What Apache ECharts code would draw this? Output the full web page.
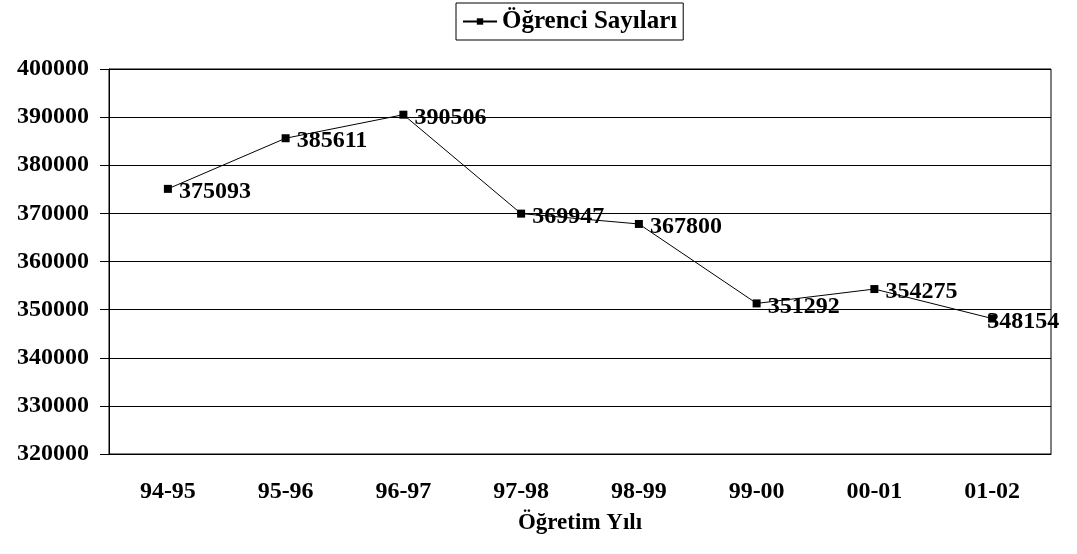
<!DOCTYPE html>
<html><head><meta charset="utf-8">
<script src="https://cdn.jsdelivr.net/npm/echarts@6/dist/echarts.min.js"></script>
<style>html,body{margin:0;padding:0;background:#fff}#c{width:1077px;height:554px}</style>
</head><body><div id="c"></div>
<script>
const categories = ["94-95","95-96","96-97","97-98","98-99","99-00","00-01","01-02"];
const values = [375093,385611,390506,369947,367800,351292,354275,348154];
const seriesName = "Öğrenci Sayıları";
const xTitle = "Öğretim Yılı";
const FONT = "'Liberation Serif','Times New Roman',serif";
const chart = echarts.init(document.getElementById('c'));
const seriesData = values.map((v,i)=> i===values.length-1 ? {value:v,label:{offset:[-16,3]}} : v);
chart.setOption({
  animation:false,
  backgroundColor:'#fff',
  legend:{top:3,left:456,data:[seriesName],borderColor:'#000',borderWidth:1,borderRadius:0,
    padding:[6,6,6,6],itemWidth:34,itemHeight:8,itemGap:4,
    textStyle:{fontFamily:FONT,fontWeight:'bold',fontSize:25,color:'#000'}},
  grid:{left:109,right:26,top:69,bottom:100,show:true,borderColor:'#000',borderWidth:1,containLabel:false},
  xAxis:{type:'category',data:categories,boundaryGap:true,
    name:xTitle,nameLocation:'middle',nameGap:58,
    nameTextStyle:{fontFamily:FONT,fontWeight:'bold',fontSize:23,color:'#000'},
    axisLine:{lineStyle:{color:'#000'}},axisTick:{show:false},
    axisLabel:{fontFamily:FONT,fontWeight:'bold',fontSize:24,color:'#000',margin:26}},
  yAxis:{type:'value',min:320000,max:400000,interval:10000,
    axisLine:{show:true,lineStyle:{color:'#000'}},
    axisTick:{show:true,length:9,lineStyle:{color:'#000'}},
    splitLine:{lineStyle:{color:'#000',width:1}},
    axisLabel:{fontFamily:FONT,fontWeight:'bold',fontSize:24,color:'#000',margin:20,formatter:v=>String(v)}},
  series:[{name:seriesName,type:'line',data:seriesData,symbol:'rect',symbolSize:8,
    lineStyle:{color:'#000',width:1},itemStyle:{color:'#000'},
    label:{show:true,position:'right',distance:7,fontFamily:FONT,fontWeight:'bold',fontSize:24,color:'#000',offset:[0,3],formatter:p=>String(p.value)}}]
});
</script></body></html>
